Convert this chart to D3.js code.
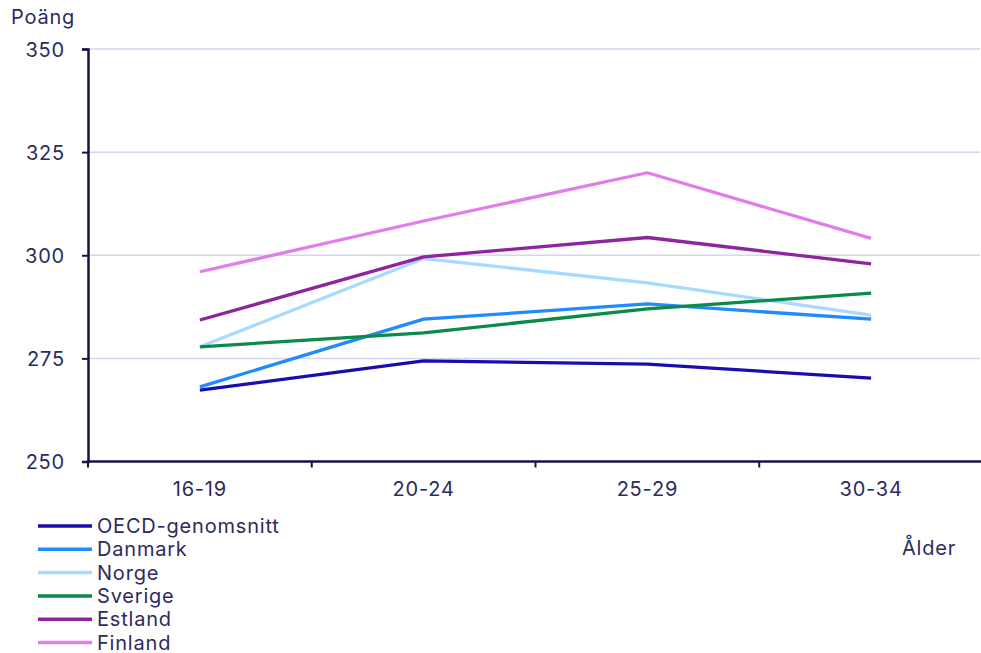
<!DOCTYPE html>
<html lang="sv">
<head>
<meta charset="utf-8">
<script src="https://d3js.org/d3.v7.min.js"></script>
<style>
  body { margin: 0; background: #fff; }
  svg text { font-family: Inter, "Noto Sans", sans-serif; fill: #2c2b5c; font-size: 20px; letter-spacing: 0.8px; }
</style>
</head>
<body>
<script>
// data
var ages = ["16-19", "20-24", "25-29", "30-34"];
var seriesNames = ["OECD-genomsnitt", "Danmark", "Norge", "Sverige", "Estland", "Finland"];
var oecd    = [267.3, 274.4, 273.6, 270.2];
var danmark = [268.1, 284.5, 288.2, 284.5];
var norge   = [277.8, 299.2, 293.3, 285.5];
var sverige = [277.8, 281.2, 287.0, 290.8];
var estland = [284.3, 299.6, 304.3, 297.9];
var finland = [296.0, 308.3, 320.0, 304.1];
var yTicks = [250, 275, 300, 325, 350];

var allValues = [oecd, danmark, norge, sverige, estland, finland];
var colors = ["#1b0cb0", "#1f8bff", "#a8d9ff", "#0b8a4b", "#8f249f", "#e07de9"];

var width = 981, height = 653;
var plotLeft = 88, plotRight = 983, plotTop = 49, plotBottom = 461.5;

var svg = d3.select("body").append("svg")
  .attr("width", width)
  .attr("height", height);

var x = d3.scaleBand().domain(ages).range([plotLeft, plotRight]);
var y = d3.scaleLinear().domain([250, 350]).range([plotBottom, plotTop]);

// gridlines
svg.append("g")
  .selectAll("line")
  .data(yTicks.slice(1))
  .enter().append("line")
  .attr("x1", plotLeft).attr("x2", 980)
  .attr("y1", function(d) { return y(d); })
  .attr("y2", function(d) { return y(d); })
  .attr("stroke", "#d6d5f0")
  .attr("stroke-width", 1.5);

// lines
var line = d3.line()
  .x(function(d, i) { return x(ages[i]) + x.bandwidth() / 2; })
  .y(function(d) { return y(d); });

svg.append("g")
  .selectAll("path")
  .data(allValues)
  .enter().append("path")
  .attr("d", line)
  .attr("fill", "none")
  .attr("stroke", function(d, i) { return colors[i]; })
  .attr("stroke-width", 3.3)
  .attr("stroke-linejoin", "round");

// y axis
var yAxis = svg.append("g")
  .attr("transform", "translate(" + plotLeft + ",0)")
  .call(d3.axisLeft(y).tickValues(yTicks).tickSize(6).tickPadding(17));
yAxis.select(".domain").attr("stroke", "#17124a").attr("stroke-width", 2.5);
yAxis.selectAll(".tick line").attr("stroke", "#17124a").attr("stroke-width", 2);
yAxis.selectAll(".tick text")
  .attr("font-size", null)
  .attr("font-family", null)
  .attr("fill", "#2c2b5c")
  .attr("dy", "0.35em");

// x axis, ticks between categories
var xAxis = svg.append("g")
  .attr("transform", "translate(0," + plotBottom + ")");
xAxis.append("line")
  .attr("x1", plotLeft - 1).attr("x2", 981)
  .attr("stroke", "#17124a")
  .attr("stroke-width", 2.5);
xAxis.selectAll(".sep")
  .data(ages)
  .enter().append("line")
  .attr("class", "sep")
  .attr("x1", function(d) { return x(d); })
  .attr("x2", function(d) { return x(d); })
  .attr("y1", 0).attr("y2", 6)
  .attr("stroke", "#17124a")
  .attr("stroke-width", 2);
xAxis.selectAll(".lbl")
  .data(ages)
  .enter().append("text")
  .attr("class", "lbl")
  .attr("x", function(d) { return x(d) + x.bandwidth() / 2; })
  .attr("y", 34)
  .attr("text-anchor", "middle")
  .text(function(d) { return d; });

// axis titles
svg.append("text")
  .attr("x", 11).attr("y", 24)
  .text("Poäng");
svg.append("text")
  .attr("x", 902).attr("y", 555)
  .text("Ålder");

// legend
var legend = svg.append("g")
  .selectAll("g")
  .data(seriesNames)
  .enter().append("g")
  .attr("transform", function(d, i) { return "translate(38," + (526 + i * 23.3) + ")"; });
legend.append("line")
  .attr("x1", 0).attr("x2", 54)
  .attr("stroke", function(d, i) { return colors[i]; })
  .attr("stroke-width", 3.5);
legend.append("text")
  .attr("x", 59)
  .attr("dy", "0.35em")
  .text(function(d) { return d; });
</script>
</body>
</html>
